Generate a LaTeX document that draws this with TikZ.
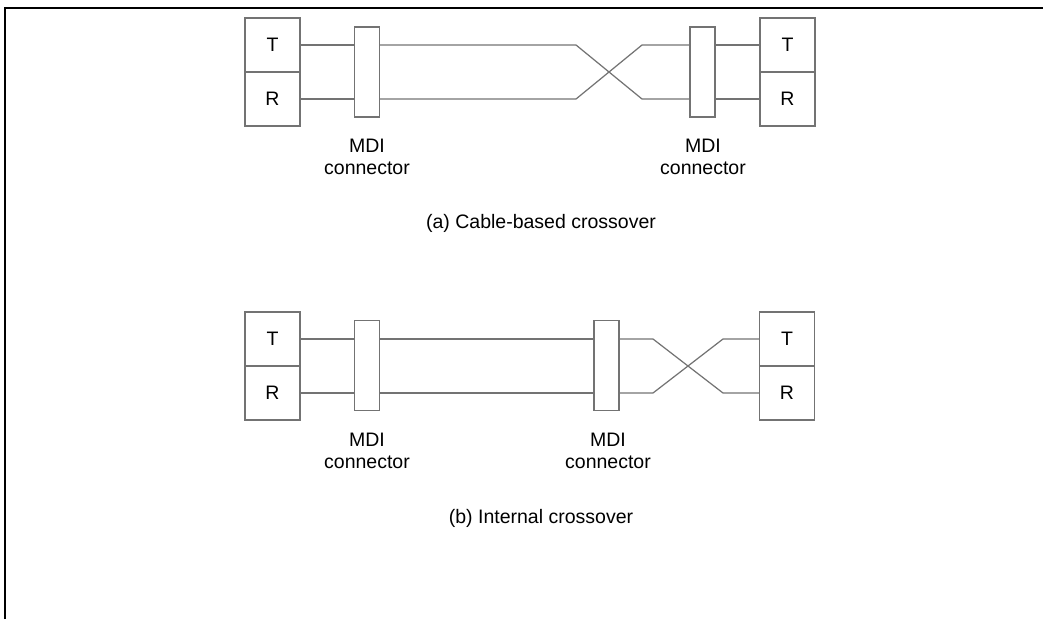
\documentclass[tikz,border=0pt]{standalone}
\usepackage{fontspec}
\setmainfont{Liberation Sans}
\begin{document}
\begin{tikzpicture}[x=0.02cm, y=-0.02cm,
  wire/.style={draw=black!55, line width=0.7pt},
  cell/.style={draw=black!55, line width=0.7pt, rectangle, minimum width=1.1cm, minimum height=1.08cm, inner sep=0pt, font=\fontsize{11.1}{12.5}\selectfont},
  mdi/.style={draw=black!55, line width=0.7pt, rectangle, minimum width=0.5cm, minimum height=1.8cm, inner sep=0pt},
  lbl/.style={align=center, inner sep=0pt, font=\fontsize{11.1}{12.5}\selectfont}]
\useasboundingbox (0,0) rectangle (1045,619);
\draw[line width=0.8pt] (5,619) -- (5,8) -- (1043,8);

% (a) cable-based
\node[cell] (aLT) at (272.5,45) {T};
\node[cell] (aLR) at (272.5,99) {R};
\node[mdi] (aLC) at (367,72) {};
\node[mdi] (aRC) at (702.5,72) {};
\node[cell] (aRT) at (787.5,45) {T};
\node[cell] (aRR) at (787.5,99) {R};
\coordinate (aX1) at (576,45);
\coordinate (aX2) at (576,99);
\coordinate (aX3) at (642,45);
\coordinate (aX4) at (642,99);
\draw[wire] (aLT) -- (aLT -| aLC.west);
\draw[wire] (aLR) -- (aLR -| aLC.west);
\draw[wire] (aLT -| aLC.east) -- (aX1) -- (aX4) -- (aX4 -| aRC.west);
\draw[wire] (aLR -| aLC.east) -- (aX2) -- (aX3) -- (aX3 -| aRC.west);
\draw[wire] (aRT -| aRC.east) -- (aRT);
\draw[wire] (aRR -| aRC.east) -- (aRR);
\node[lbl] (aLm) at (367,157) {MDI\\connector};
\node[lbl] (aRm) at (703,157) {MDI\\connector};
\node[lbl, anchor=base] (aCap) at (541,228) {(a) Cable-based crossover};

% (b) internal
\node[cell] (bLT) at (272.5,339) {T};
\node[cell] (bLR) at (272.5,393) {R};
\node[mdi] (bLC) at (367,365.5) {};
\node[mdi] (bRC) at (606.5,365.5) {};
\node[cell] (bRT) at (787,339) {T};
\node[cell] (bRR) at (787,393) {R};
\coordinate (bX1) at (653,339);
\coordinate (bX2) at (653,393);
\coordinate (bX3) at (723,339);
\coordinate (bX4) at (723,393);
\draw[wire] (bLT) -- (bLT -| bLC.west);
\draw[wire] (bLR) -- (bLR -| bLC.west);
\draw[wire] (bLT -| bLC.east) -- (bLT -| bRC.west);
\draw[wire] (bLR -| bLC.east) -- (bLR -| bRC.west);
\draw[wire] (bLT -| bRC.east) -- (bX1) -- (bX4) -- (bRR);
\draw[wire] (bLR -| bRC.east) -- (bX2) -- (bX3) -- (bRT);
\node[lbl] (bLm) at (367,451) {MDI\\connector};
\node[lbl] (bRm) at (608,451) {MDI\\connector};
\node[lbl, anchor=base] (bCap) at (541,523) {(b) Internal crossover};
\end{tikzpicture}
\end{document}
